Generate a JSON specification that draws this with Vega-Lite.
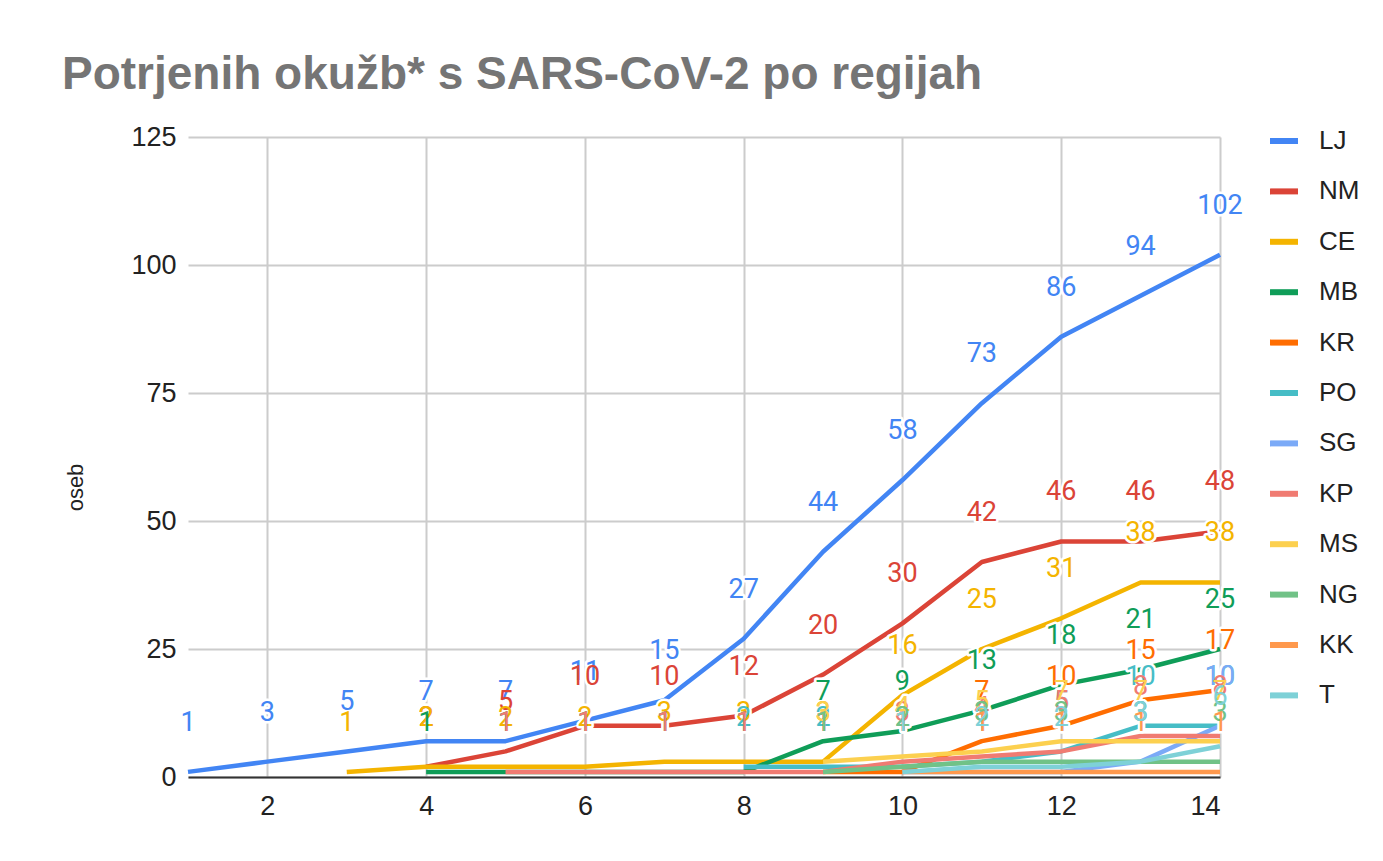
{
  "$schema": "https://vega.github.io/schema/vega-lite/v6.json",
  "width": 1032,
  "height": 640,
  "autosize": {"type": "none"},
  "padding": {"left": 188, "top": 137, "right": 163, "bottom": 84},
  "background": "white",
  "title": {
    "text": "Potrjenih okužb* s SARS-CoV-2 po regijah",
    "anchor": "start",
    "frame": "group",
    "font": "Liberation Sans",
    "fontSize": 46,
    "fontWeight": "bold",
    "color": "#757575",
    "dx": -126,
    "offset": 24
  },
  "config": {
    "view": {"stroke": null},
    "axis": {"labelFont": "Liberation Sans", "labelFontSize": 27, "labelColor": "#222222", "titleFont": "Liberation Sans"}
  },
  "data": {
    "values": [
      {"x": 1, "r": "LJ", "v": 1}, {"x": 2, "r": "LJ", "v": 3}, {"x": 3, "r": "LJ", "v": 5}, {"x": 4, "r": "LJ", "v": 7}, {"x": 5, "r": "LJ", "v": 7}, {"x": 6, "r": "LJ", "v": 11}, {"x": 7, "r": "LJ", "v": 15}, {"x": 8, "r": "LJ", "v": 27}, {"x": 9, "r": "LJ", "v": 44}, {"x": 10, "r": "LJ", "v": 58}, {"x": 11, "r": "LJ", "v": 73}, {"x": 12, "r": "LJ", "v": 86}, {"x": 13, "r": "LJ", "v": 94}, {"x": 14, "r": "LJ", "v": 102},
      {"x": 4, "r": "NM", "v": 2}, {"x": 5, "r": "NM", "v": 5}, {"x": 6, "r": "NM", "v": 10}, {"x": 7, "r": "NM", "v": 10}, {"x": 8, "r": "NM", "v": 12}, {"x": 9, "r": "NM", "v": 20}, {"x": 10, "r": "NM", "v": 30}, {"x": 11, "r": "NM", "v": 42}, {"x": 12, "r": "NM", "v": 46}, {"x": 13, "r": "NM", "v": 46}, {"x": 14, "r": "NM", "v": 48},
      {"x": 3, "r": "CE", "v": 1}, {"x": 4, "r": "CE", "v": 2}, {"x": 5, "r": "CE", "v": 2}, {"x": 6, "r": "CE", "v": 2}, {"x": 7, "r": "CE", "v": 3}, {"x": 8, "r": "CE", "v": 3}, {"x": 9, "r": "CE", "v": 3}, {"x": 10, "r": "CE", "v": 16}, {"x": 11, "r": "CE", "v": 25}, {"x": 12, "r": "CE", "v": 31}, {"x": 13, "r": "CE", "v": 38}, {"x": 14, "r": "CE", "v": 38},
      {"x": 4, "r": "MB", "v": 1}, {"x": 5, "r": "MB", "v": 1}, {"x": 6, "r": "MB", "v": 1}, {"x": 7, "r": "MB", "v": 1}, {"x": 8, "r": "MB", "v": 1}, {"x": 9, "r": "MB", "v": 7}, {"x": 10, "r": "MB", "v": 9}, {"x": 11, "r": "MB", "v": 13}, {"x": 12, "r": "MB", "v": 18}, {"x": 13, "r": "MB", "v": 21}, {"x": 14, "r": "MB", "v": 25},
      {"x": 9, "r": "KR", "v": 1}, {"x": 10, "r": "KR", "v": 1}, {"x": 11, "r": "KR", "v": 7}, {"x": 12, "r": "KR", "v": 10}, {"x": 13, "r": "KR", "v": 15}, {"x": 14, "r": "KR", "v": 17},
      {"x": 8, "r": "PO", "v": 2}, {"x": 9, "r": "PO", "v": 2}, {"x": 10, "r": "PO", "v": 2}, {"x": 11, "r": "PO", "v": 3}, {"x": 12, "r": "PO", "v": 5}, {"x": 13, "r": "PO", "v": 10}, {"x": 14, "r": "PO", "v": 10},
      {"x": 10, "r": "SG", "v": 1}, {"x": 11, "r": "SG", "v": 1}, {"x": 12, "r": "SG", "v": 1}, {"x": 13, "r": "SG", "v": 3}, {"x": 14, "r": "SG", "v": 10},
      {"x": 5, "r": "KP", "v": 1}, {"x": 6, "r": "KP", "v": 1}, {"x": 7, "r": "KP", "v": 1}, {"x": 8, "r": "KP", "v": 1}, {"x": 9, "r": "KP", "v": 1}, {"x": 10, "r": "KP", "v": 3}, {"x": 11, "r": "KP", "v": 4}, {"x": 12, "r": "KP", "v": 5}, {"x": 13, "r": "KP", "v": 8}, {"x": 14, "r": "KP", "v": 8},
      {"x": 9, "r": "MS", "v": 3}, {"x": 10, "r": "MS", "v": 4}, {"x": 11, "r": "MS", "v": 5}, {"x": 12, "r": "MS", "v": 7}, {"x": 13, "r": "MS", "v": 7}, {"x": 14, "r": "MS", "v": 7},
      {"x": 9, "r": "NG", "v": 1}, {"x": 10, "r": "NG", "v": 2}, {"x": 11, "r": "NG", "v": 3}, {"x": 12, "r": "NG", "v": 3}, {"x": 13, "r": "NG", "v": 3}, {"x": 14, "r": "NG", "v": 3},
      {"x": 10, "r": "KK", "v": 1}, {"x": 11, "r": "KK", "v": 1}, {"x": 12, "r": "KK", "v": 1}, {"x": 13, "r": "KK", "v": 1}, {"x": 14, "r": "KK", "v": 1},
      {"x": 10, "r": "T", "v": 1}, {"x": 11, "r": "T", "v": 2}, {"x": 12, "r": "T", "v": 2}, {"x": 13, "r": "T", "v": 3}, {"x": 14, "r": "T", "v": 6}
    ]
  },
  "encoding": {
    "x": {
      "field": "x", "type": "quantitative",
      "scale": {"domain": [1, 14], "nice": false, "zero": false},
      "axis": {"values": [2, 4, 6, 8, 10, 12, 14], "grid": true, "gridColor": "#cccccc", "gridWidth": 2, "domainColor": "#333333", "domainWidth": 2, "ticks": false, "labelPadding": 16, "labelAngle": 0, "title": null}
    },
    "y": {
      "field": "v", "type": "quantitative",
      "scale": {"domain": [0, 125], "nice": false},
      "axis": {"values": [0, 25, 50, 75, 100, 125], "grid": true, "gridColor": "#cccccc", "gridWidth": 2, "domain": false, "ticks": false, "labelPadding": 12, "title": "oseb", "titleFontSize": 22, "titleFontWeight": "normal", "titleColor": "#222222", "titleX": -113, "titleY": 350, "titleAlign": "center", "titleBaseline": "middle"}
    }
  },
  "layer": [
    {
      "mark": {"type": "line", "strokeWidth": 4.5, "strokeJoin": "round"},
      "encoding": {
        "color": {
          "field": "r", "type": "nominal",
          "scale": {"domain": ["LJ", "NM", "CE", "MB", "KR", "PO", "SG", "KP", "MS", "NG", "KK", "T"], "range": ["#4285F4", "#DB4437", "#F4B400", "#0F9D58", "#FF6D01", "#46BDC6", "#7BAAF7", "#F07B72", "#FCD04F", "#71C287", "#FF994D", "#7ED1D7"]},
          "legend": {"orient": "none", "legendX": 1079, "legendY": -13, "title": null, "padding": 0, "labelFont": "Liberation Sans", "labelFontSize": 26, "labelColor": "#222222", "symbolType": "stroke", "symbolSize": 784, "symbolStrokeWidth": 6, "labelOffset": 18, "rowPadding": 20.4}
        }
      }
    },
    {
      "mark": {"type": "text", "font": "Roboto", "fontSize": 27, "dy": -49, "baseline": "middle", "fill": "white", "stroke": "white", "strokeWidth": 5, "strokeJoin": "round"},
      "encoding": {"text": {"field": "v", "type": "quantitative"}}
    },
    {
      "mark": {"type": "text", "font": "Roboto", "fontSize": 27, "dy": -49, "baseline": "middle"},
      "encoding": {
        "text": {"field": "v", "type": "quantitative"},
        "color": {
          "field": "r", "type": "nominal",
          "scale": {"domain": ["LJ", "NM", "CE", "MB", "KR", "PO", "SG", "KP", "MS", "NG", "KK", "T"], "range": ["#4285F4", "#DB4437", "#F4B400", "#0F9D58", "#FF6D01", "#46BDC6", "#7BAAF7", "#F07B72", "#FCD04F", "#71C287", "#FF994D", "#7ED1D7"]},
          "legend": null
        }
      }
    }
  ],
  "resolve": {"scale": {"color": "independent"}, "legend": {"color": "independent"}}
}
